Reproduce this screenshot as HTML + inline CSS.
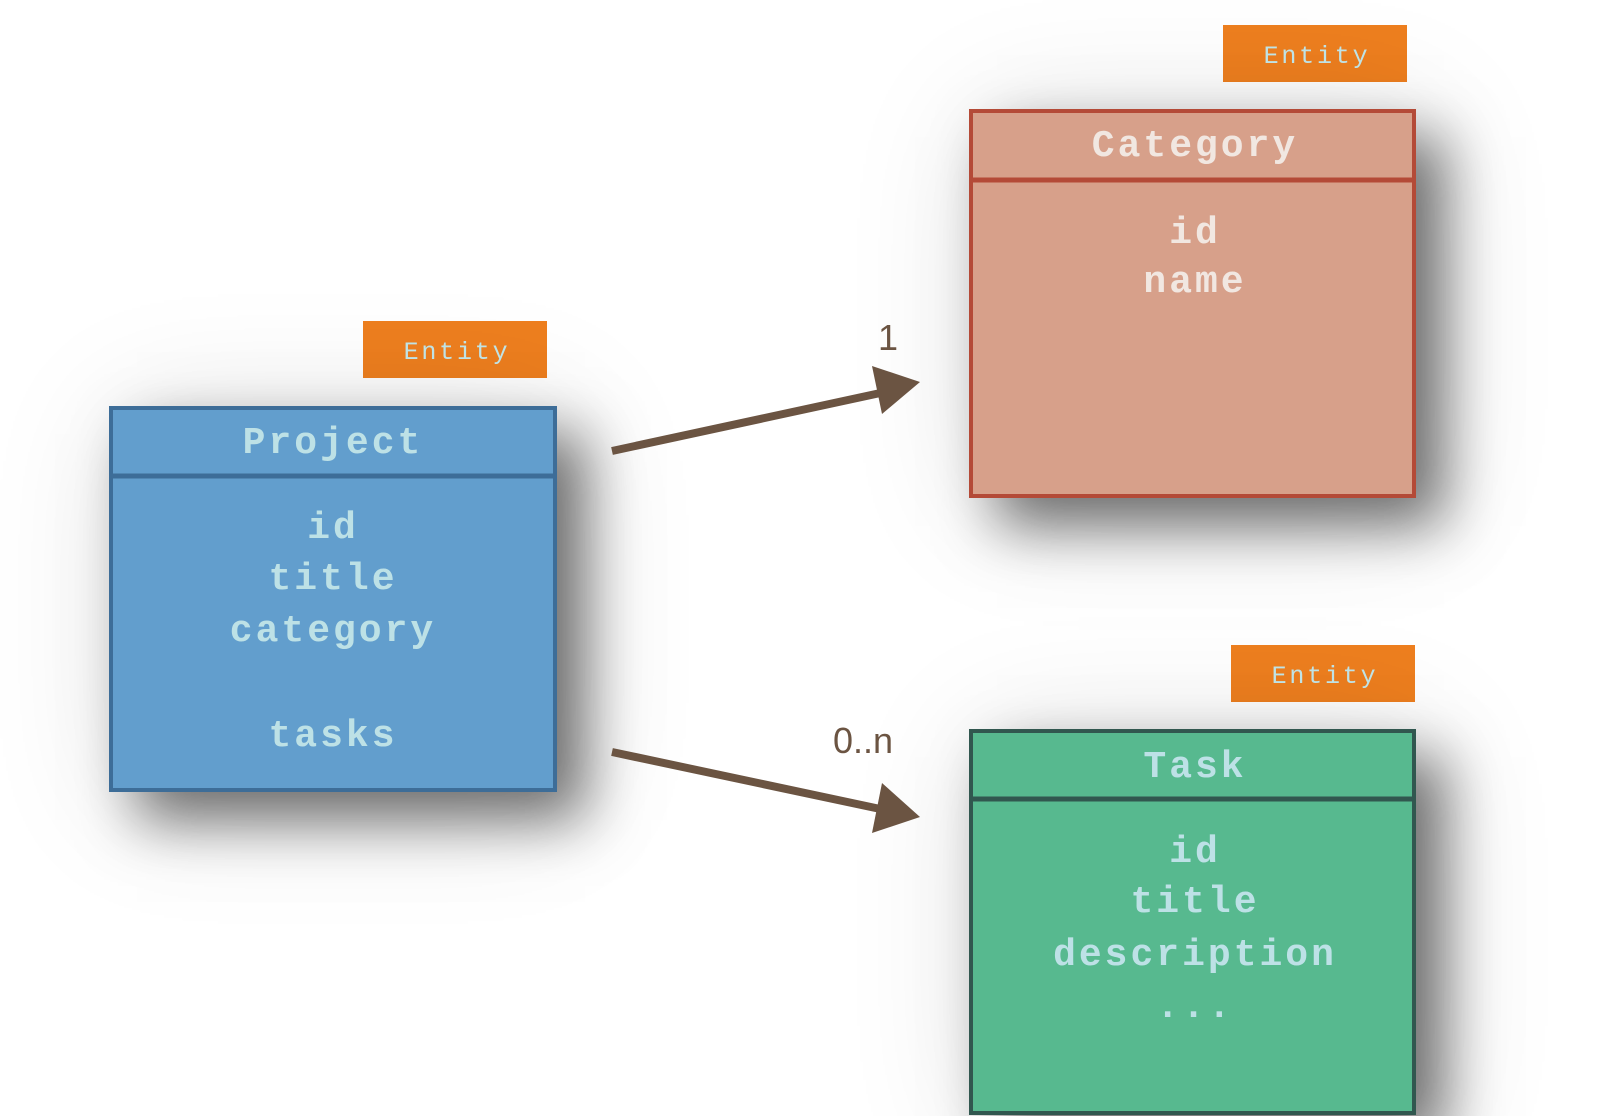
<!DOCTYPE html>
<html><head><meta charset="utf-8"><style>
html,body{margin:0;padding:0;background:#fff;width:1600px;height:1116px;overflow:hidden;position:relative}
.box{position:absolute;box-sizing:border-box;border:4px solid}
.sh{box-shadow:28px 28px 55px rgba(0,0,0,0.55),10px 10px 140px rgba(0,0,0,0.12)}
.badge{position:absolute;background:#ee7f1f;width:184px;height:57px}
svg{position:absolute;left:0;top:0}
</style></head><body>
<div class="badge" style="left:363px;top:321px"></div>
<div class="badge" style="left:1223px;top:25px"></div>
<div class="badge" style="left:1231px;top:645px"></div>

<div class="box sh" style="left:109px;top:406px;width:448px;height:386px;background:#629ecd;border-color:#3d6d98"></div>
<div class="box sh" style="left:969px;top:109px;width:447px;height:389px;background:#d7a08a;border-color:#b44a37"></div>
<div class="box sh" style="left:969px;top:729px;width:447px;height:386px;background:#57b98f;border-color:#31574f"></div>

<svg width="1600" height="1116" viewBox="0 0 1600 1116">
<g stroke-width="5">
<line x1="109" y1="476" x2="557" y2="476" stroke="#3d6d98"/>
<line x1="969" y1="180" x2="1416" y2="180" stroke="#b44a37"/>
<line x1="969" y1="799" x2="1416" y2="799" stroke="#31574f"/>
</g>
<g font-family="'Liberation Mono', monospace" font-size="25" fill="#bfe3e6" text-anchor="middle" letter-spacing="2.8">
<text x="457" y="359">Entity</text>
<text x="1317" y="63">Entity</text>
<text x="1325" y="683">Entity</text>
</g>
<g font-family="'Liberation Mono', monospace" font-weight="bold" font-size="38" fill="#bde1e6" text-anchor="middle" letter-spacing="3">
<text x="333" y="453">Project</text>
<text x="333" y="538">id</text>
<text x="333" y="589">title</text>
<text x="333" y="641">category</text>
<text x="333" y="746">tasks</text>
<text x="1195" y="777">Task</text>
<text x="1195" y="862">id</text>
<text x="1195" y="912">title</text>
<text x="1195" y="965">description</text>
<text x="1195" y="1017">...</text>
</g>
<g font-family="'Liberation Mono', monospace" font-weight="bold" font-size="38" fill="#f1e7e1" text-anchor="middle" letter-spacing="3">
<text x="1195" y="156">Category</text>
<text x="1195" y="243">id</text>
<text x="1195" y="292">name</text>
</g>
<g stroke="#6b5442" stroke-width="8" fill="#6b5442">
<line x1="612" y1="451" x2="885" y2="392"/>
<line x1="612" y1="752" x2="885" y2="810"/>
<polygon stroke="none" points="920,382 872,366 882,414"/>
<polygon stroke="none" points="920,817 882,783 872,833"/>
</g>
<g font-family="'Liberation Sans', sans-serif" font-size="36" fill="#6b5442">
<text x="878" y="350">1</text>
<text x="833" y="753">0..n</text>
</g>
</svg>
</body></html>
